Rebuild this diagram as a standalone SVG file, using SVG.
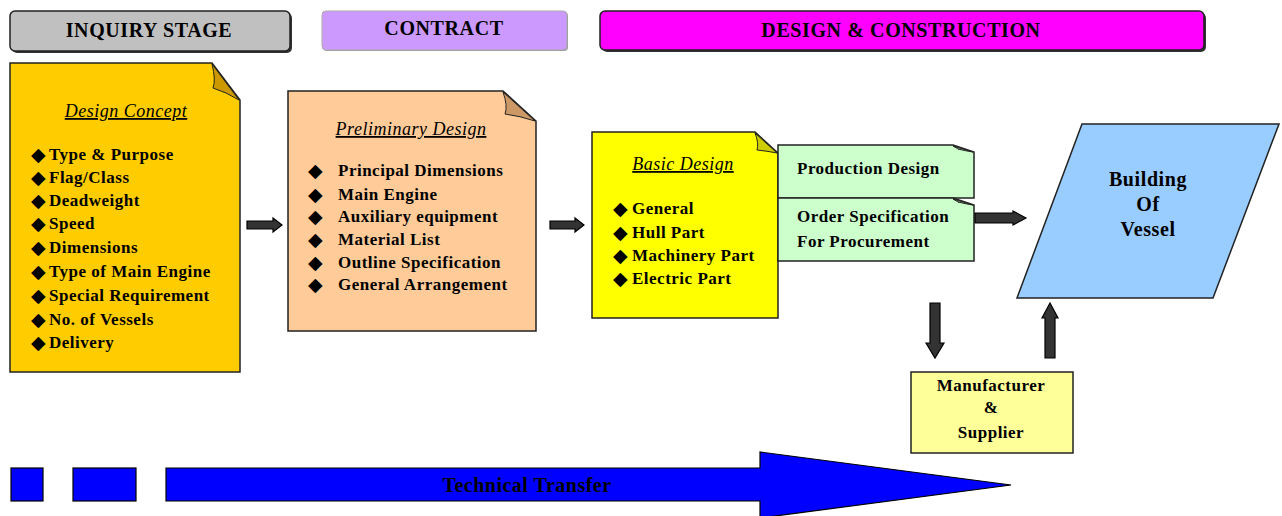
<svg xmlns="http://www.w3.org/2000/svg" width="1282" height="516" viewBox="0 0 1282 516">
<style>
  .t { font-family: "Liberation Serif", "Times New Roman", serif; font-weight: bold; fill: #000; }
  .hdr { font-size: 20px; letter-spacing: 0.6px; text-anchor: middle; }
  .item { font-size: 17px; letter-spacing: 0.5px; }
  .ttl { font-size: 18px; letter-spacing: 0.5px; font-style: italic; font-weight: normal; text-decoration: underline; text-anchor: middle; }
  .bul { font-family: "DejaVu Sans", sans-serif; font-size: 19px; fill: #000; }
  .node { stroke: #222; stroke-width: 1.5; }
  .fold { stroke: #222; stroke-width: 1; }
  .arr { fill: #333; stroke: #000; stroke-width: 1.2; stroke-linejoin: miter; }
  .blue { fill: #0000ff; stroke: #000; stroke-width: 1.2; }
</style>

<g id="hdr-inquiry">
  <rect x="12" y="13" width="280" height="40" rx="5" fill="#333"/>
  <rect x="10" y="11" width="280" height="40" rx="5" fill="#c0c0c0" stroke="#222" stroke-width="1.5"/>
  <text class="t hdr" x="149" y="37">INQUIRY STAGE</text>
</g>
<g id="hdr-contract">
  <rect x="323" y="12" width="245" height="39" rx="4" fill="#999"/>
  <rect x="322" y="11" width="245" height="39" rx="4" fill="#cc99ff" stroke="#aaa" stroke-width="1"/>
  <text class="t hdr" x="444" y="35">CONTRACT</text>
</g>
<g id="hdr-design">
  <rect x="602" y="13" width="604" height="39" rx="5" fill="#333"/>
  <rect x="600" y="11" width="604" height="39" rx="5" fill="#ff00ff" stroke="#222" stroke-width="1.5"/>
  <text class="t hdr" x="901" y="37">DESIGN &amp; CONSTRUCTION</text>
</g>

<g id="design-concept">
  <polygon class="node" points="10,63 212,63 240,100 240,372 10,372" fill="#ffcc00"/>
  <path class="fold" d="M212,64 Q216,80 213,88 Q226,92 239,100 Z" fill="#cc9900"/>
  <text class="t ttl" x="126" y="117">Design Concept</text>
  <g class="bul">
    <text x="31" y="161">◆</text><text x="31" y="184">◆</text><text x="31" y="207">◆</text>
    <text x="31" y="230">◆</text><text x="31" y="254">◆</text><text x="31" y="278">◆</text>
    <text x="31" y="302">◆</text><text x="31" y="326">◆</text><text x="31" y="349">◆</text>
  </g>
  <g class="t item">
    <text x="49" y="160">Type &amp; Purpose</text>
    <text x="49" y="183">Flag/Class</text>
    <text x="49" y="206">Deadweight</text>
    <text x="49" y="229">Speed</text>
    <text x="49" y="253">Dimensions</text>
    <text x="49" y="277">Type of Main Engine</text>
    <text x="49" y="301">Special Requirement</text>
    <text x="49" y="325">No. of Vessels</text>
    <text x="49" y="348">Delivery</text>
  </g>
</g>

<g id="preliminary-design">
  <polygon class="node" points="288,91 503,91 536,121 536,331 288,331" fill="#ffcc99"/>
  <path class="fold" d="M503,92 Q508,106 505,114 Q520,116 535,121 Z" fill="#cc9966"/>
  <text class="t ttl" x="411" y="135">Preliminary Design</text>
  <g class="bul">
    <text x="308" y="177">◆</text><text x="308" y="201">◆</text><text x="308" y="223">◆</text>
    <text x="308" y="246">◆</text><text x="308" y="269">◆</text><text x="308" y="291">◆</text>
  </g>
  <g class="t item">
    <text x="338" y="176">Principal Dimensions</text>
    <text x="338" y="200">Main Engine</text>
    <text x="338" y="222">Auxiliary equipment</text>
    <text x="338" y="245">Material List</text>
    <text x="338" y="268">Outline Specification</text>
    <text x="338" y="290">General Arrangement</text>
  </g>
</g>

<g id="basic-design">
  <polygon class="node" points="592,132 755,132 778,153 778,318 592,318" fill="#ffff00"/>
  <path class="fold" d="M755,133 Q759,143 757,150 Q767,151 777,153 Z" fill="#cccc00"/>
  <text class="t ttl" x="683" y="170">Basic Design</text>
  <g class="bul">
    <text x="613" y="215">◆</text><text x="613" y="239">◆</text>
    <text x="613" y="262">◆</text><text x="613" y="285">◆</text>
  </g>
  <g class="t item">
    <text x="632" y="214">General</text>
    <text x="632" y="238">Hull Part</text>
    <text x="632" y="261">Machinery Part</text>
    <text x="632" y="284">Electric Part</text>
  </g>
</g>

<g id="production-design">
  <polygon class="node" points="778,145 953,145 974,152 974,198 778,198" fill="#ccffcc"/>
  <path class="fold" d="M953,146 Q960,150 958,149 Q966,151 973,152 Z" fill="#99cc99"/>
  <text class="t item" x="797" y="174">Production Design</text>
</g>

<g id="order-spec">
  <polygon class="node" points="778,198 953,198 974,205 974,261 778,261" fill="#ccffcc"/>
  <path class="fold" d="M953,199 Q960,203 958,202 Q966,204 973,205 Z" fill="#99cc99"/>
  <text class="t item" x="797" y="222">Order Specification</text>
  <text class="t item" x="797" y="247">For Procurement</text>
</g>

<g id="building">
  <polygon class="node" points="1082,124 1279,124 1213,298 1017,298" fill="#99ccff"/>
  <text class="t hdr" x="1148" y="186">Building</text>
  <text class="t hdr" x="1148" y="211">Of</text>
  <text class="t hdr" x="1148" y="236">Vessel</text>
</g>

<g id="manufacturer">
  <rect class="node" x="911" y="372" width="162" height="81" fill="#ffff99"/>
  <text class="t item" x="991" y="391" text-anchor="middle" letter-spacing="1">Manufacturer</text>
  <text class="t item" x="991" y="413" text-anchor="middle">&amp;</text>
  <text class="t item" x="991" y="438" text-anchor="middle" letter-spacing="1">Supplier</text>
</g>

<g id="technical-transfer">
  <rect class="blue" x="11" y="468" width="32" height="33"/>
  <rect class="blue" x="73" y="468" width="63" height="33"/>
  <polygon class="blue" points="166,468 760,468 760,452 1011,485 760,518 760,501 166,501"/>
  <text class="t" x="527" y="492" font-size="20" letter-spacing="0.5" text-anchor="middle">Technical Transfer</text>
</g>

<g id="connectors">
  <polygon class="arr" points="247,221 273,221 273,218 282,225 273,232 273,229 247,229"/>
  <polygon class="arr" points="550,221 575,221 575,218 584,225 575,232 575,229 550,229"/>
  <polygon class="arr" points="975,213 1013,213 1013,211 1026,218 1013,225 1013,223 975,223"/>
  <polygon class="arr" points="930,303 940,303 940,343 944,343 935,358 926,343 930,343"/>
  <polygon class="arr" points="1045,358 1055,358 1055,318 1058,318 1050,303 1042,318 1045,318"/>
</g>
</svg>
